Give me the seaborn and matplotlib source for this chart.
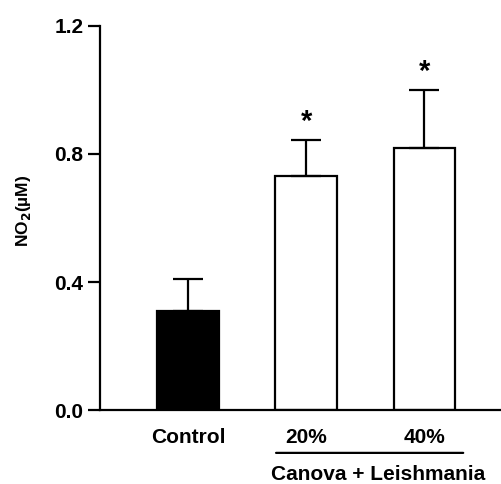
import numpy as np
import pandas as pd
import matplotlib
matplotlib.use("Agg")
import matplotlib.pyplot as plt
import seaborn as sns

groups = ["Control", "20%", "40%"]
no2_mean = [0.31, 0.73, 0.82]
no2_sem = [0.10, 0.115, 0.18]
bar_colors = ["black", "white", "white"]
significant = [False, True, True]

df = pd.DataFrame({"group": groups, "no2": no2_mean})

sns.set_style("ticks")
plt.rcParams["font.family"] = ["Liberation Sans", "DejaVu Sans"]
plt.rcParams["font.weight"] = "bold"
plt.rcParams["text.color"] = "black"
plt.rcParams["axes.labelcolor"] = "black"
plt.rcParams["xtick.color"] = "black"
plt.rcParams["ytick.color"] = "black"
plt.rcParams["axes.edgecolor"] = "black"

fig = plt.figure(figsize=(5.01, 4.84), dpi=100)
ax = fig.add_axes([100 / 501, 74 / 484, 401 / 501, 384 / 484])

sns.barplot(data=df, x="group", y="no2", hue="group", palette=bar_colors,
            edgecolor="black", linewidth=1.6, width=0.52, legend=False, ax=ax)

xs = [p.get_x() + p.get_width() / 2 for p in ax.patches]
ax.errorbar(xs, no2_mean, yerr=[np.zeros(len(no2_sem)), no2_sem], fmt="none",
            ecolor="black", elinewidth=1.6, capsize=11, capthick=1.6)

for x, m, s, sig in zip(xs, no2_mean, no2_sem, significant):
    if sig:
        ax.text(x, m + s + 0.012, "*", ha="center", va="bottom",
                fontsize=21, fontweight="bold")

ax.set_xlim(-0.746, 2.65)
ax.set_ylim(0, 1.2)
ax.set_yticks([0.0, 0.4, 0.8, 1.2])
ax.set_yticklabels(["0.0", "0.4", "0.8", "1.2"])
ax.set_xlabel("")
ax.set_ylabel("NO$_\\mathbf{2}$(µM)", fontsize=12.5, fontweight="bold")
ax.yaxis.set_label_coords(-0.167, 0.52)
ax.tick_params(axis="y", length=9, width=1.6, labelsize=15, pad=3)
ax.tick_params(axis="x", length=0, labelsize=15, pad=13)
for lab in ax.get_xticklabels() + ax.get_yticklabels():
    lab.set_fontweight("bold")

sns.despine(ax=ax)
ax.spines["left"].set_linewidth(1.6)
ax.spines["bottom"].set_linewidth(1.6)

# group bracket under treated bars
ax.annotate("", xy=(0.745, -0.134), xycoords="data",
            xytext=(2.33, -0.134), textcoords="data",
            arrowprops=dict(arrowstyle="-", lw=1.6, color="black",
                            shrinkA=0, shrinkB=0),
            annotation_clip=False)
ax.text(1.61, -0.2, "Canova + Leishmania", ha="center", va="center",
        fontsize=15, fontweight="bold", clip_on=False)

fig.savefig("out.png", dpi=100)
